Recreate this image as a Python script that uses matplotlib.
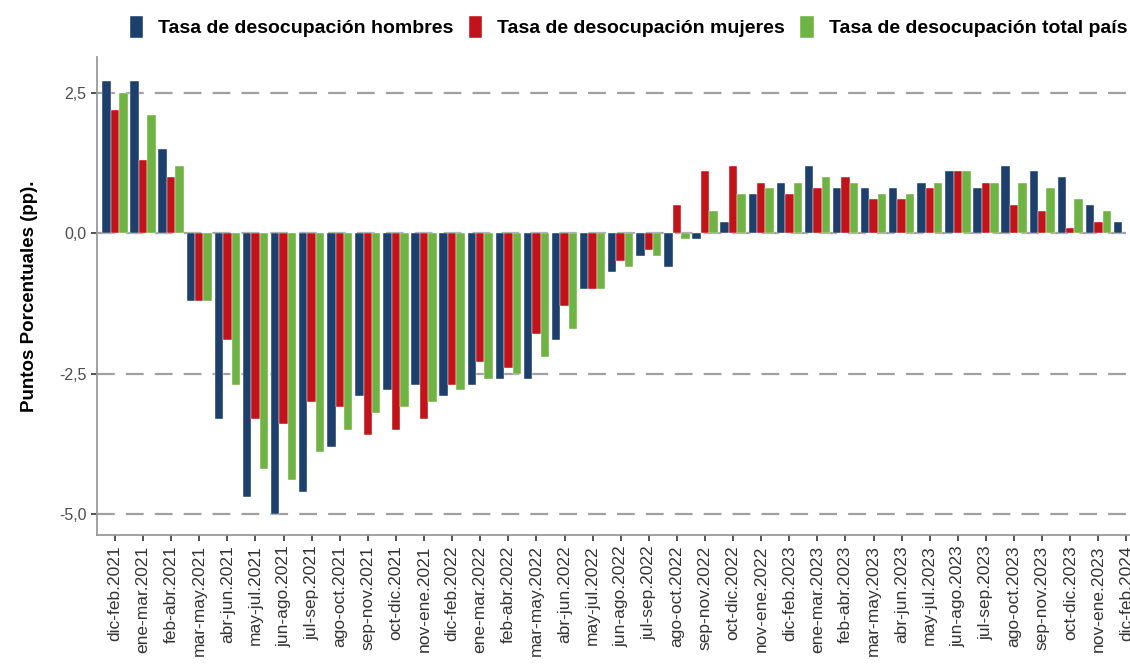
import matplotlib
matplotlib.use("Agg")
import matplotlib.pyplot as plt
import numpy as np

plt.rcParams.update({
    "font.family": ["Liberation Sans", "DejaVu Sans"],
    "figure.facecolor": "white", "axes.facecolor": "white",
})

periodos = [
    "dic-feb.2021", "ene-mar.2021", "feb-abr.2021", "mar-may.2021", "abr-jun.2021",
    "may-jul.2021", "jun-ago.2021", "jul-sep.2021", "ago-oct.2021", "sep-nov.2021",
    "oct-dic.2021", "nov-ene.2021", "dic-feb.2022", "ene-mar.2022", "feb-abr.2022",
    "mar-may.2022", "abr-jun.2022", "may-jul.2022", "jun-ago.2022", "jul-sep.2022",
    "ago-oct.2022", "sep-nov.2022", "oct-dic.2022", "nov-ene.2022", "dic-feb.2023",
    "ene-mar.2023", "feb-abr.2023", "mar-may.2023", "abr-jun.2023", "may-jul.2023",
    "jun-ago.2023", "jul-sep.2023", "ago-oct.2023", "sep-nov.2023", "oct-dic.2023",
    "nov-ene.2023", "dic-feb.2024",
]
hombres = [2.7, 2.7, 1.5, -1.2, -3.3, -4.7, -5.0, -4.6, -3.8, -2.9,
           -2.8, -2.7, -2.9, -2.7, -2.6, -2.6, -1.9, -1.0, -0.7, -0.4,
           -0.6, -0.1, 0.2, 0.7, 0.9, 1.2, 0.8, 0.8, 0.8, 0.9,
           1.1, 0.8, 1.2, 1.1, 1.0, 0.5, 0.2]
mujeres = [2.2, 1.3, 1.0, -1.2, -1.9, -3.3, -3.4, -3.0, -3.1, -3.6,
           -3.5, -3.3, -2.7, -2.3, -2.4, -1.8, -1.3, -1.0, -0.5, -0.3,
           0.5, 1.1, 1.2, 0.9, 0.7, 0.8, 1.0, 0.6, 0.6, 0.8,
           1.1, 0.9, 0.5, 0.4, 0.1, 0.2, np.nan]   # last value lies outside the crop
total = [2.5, 2.1, 1.2, -1.2, -2.7, -4.2, -4.4, -3.9, -3.5, -3.2,
         -3.1, -3.0, -2.8, -2.6, -2.5, -2.2, -1.7, -1.0, -0.6, -0.4,
         -0.1, 0.4, 0.7, 0.8, 0.9, 1.0, 0.9, 0.7, 0.7, 0.9,
         1.1, 0.9, 0.9, 0.8, 0.6, 0.4, np.nan]
series = [
    ("Tasa de desocupación hombres", hombres, "#1C3F6B"),
    ("Tasa de desocupación mujeres", mujeres, "#C2121A"),
    ("Tasa de desocupación total país", total, "#70B345"),
]

fig = plt.figure(figsize=(11.3, 6.68), dpi=100)
# axes runs past the right edge, as in the cropped original
ax = fig.add_axes([0.0858, 0.199, 0.926, 0.716])

x = np.arange(len(periodos))
w = 0.3
for i, (lbl, vals, col) in enumerate(series):
    ax.bar(x + (i - 1) * w, vals, w, color=col, label=lbl, zorder=3,
           edgecolor="white", linewidth=0.3)

ax.set_xlim(-0.64, len(periodos) - 0.4)
ax.set_ylim(-5.375, 3.14)
yt = [-5.0, -2.5, 0.0, 2.5]
ax.set_yticks(yt)
ax.set_yticklabels([f"{v:.1f}".replace(".", ",") for v in yt])
ax.yaxis.grid(True, color="#A0A0A0", ls=(0, (8, 5)), lw=1.6, zorder=0)
ax.xaxis.grid(False)
ax.set_xticks(x)
ax.set_xticklabels(periodos, rotation=90, va="top", ha="center")

for s in ("top", "right"):
    ax.spines[s].set_visible(False)
for s in ("left", "bottom"):
    ax.spines[s].set_color("#9A9A9A")
    ax.spines[s].set_linewidth(1.3)
ax.tick_params(axis="y", labelsize=11.5, labelcolor="#4D4D4D", color="#333333",
               length=4, width=1.2)
ax.tick_params(axis="x", labelsize=12.5, labelcolor="#333333", color="#333333",
               length=4, width=1.2)
ax.set_ylabel("Puntos Porcentuales (pp).", fontsize=13.5, fontweight="bold",
              labelpad=15)

fig.legend(loc="upper left", bbox_to_anchor=(0.101, 1.0), ncol=3, frameon=False,
           prop={"weight": "bold", "size": 14},
           handlelength=0.7, handleheight=1.4, handletextpad=0.75,
           columnspacing=0.8, borderaxespad=0.4)

fig.savefig("out.png", dpi=100)
